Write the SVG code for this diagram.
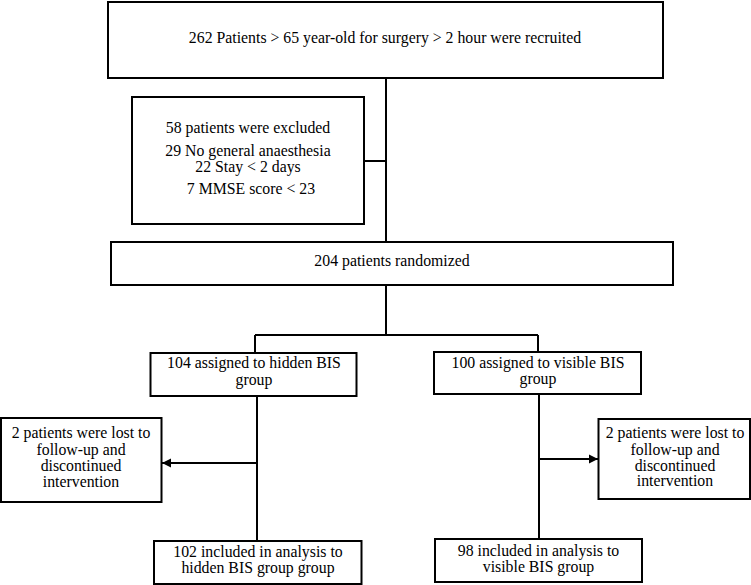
<svg xmlns="http://www.w3.org/2000/svg" width="751" height="585" viewBox="0 0 751 585">
<style>
.box{fill:#fff;stroke:#000;stroke-width:2}
.ln{fill:none;stroke:#000;stroke-width:2}
text{font-family:"Liberation Serif","Times New Roman",serif;font-size:15.8px;fill:#000;text-anchor:middle}
</style>
<defs>
<marker id="ah" markerWidth="10" markerHeight="10" refX="9" refY="5" orient="auto" markerUnits="userSpaceOnUse">
<path d="M0,0.5 L9,5 L0,9.5 Z" fill="#000"/>
</marker>
</defs>
<g id="connectors">
<path class="ln" d="M386,78 V242"/>
<path class="ln" d="M364,161 H386"/>
<path class="ln" d="M386,285 V335"/>
<path class="ln" d="M255,335 H538"/>
<path class="ln" d="M255,335 V353"/>
<path class="ln" d="M538,335 V352"/>
<path class="ln" d="M257,396 V541"/>
<path class="ln" d="M539,394 V539"/>
<path class="ln" d="M257,463 H162" marker-end="url(#ah)"/>
<path class="ln" d="M539,459 H598" marker-end="url(#ah)"/>
</g>
<g id="recruited">
<rect class="box" x="108" y="2" width="555" height="76"/>
<text x="385" y="43">262 Patients &gt; 65 year-old for surgery &gt; 2 hour were recruited</text>
</g>
<g id="excluded">
<rect class="box" x="132" y="97" width="232" height="127"/>
<text x="248" y="133">58 patients were excluded</text>
<text x="248" y="155.5">29 No general anaesthesia</text>
<text x="248" y="171.5">22 Stay &lt; 2 days</text>
<text x="251" y="193.5">7 MMSE score &lt; 23</text>
</g>
<g id="randomized">
<rect class="box" x="111" y="242" width="562" height="43"/>
<text x="392" y="266">204 patients randomized</text>
</g>
<g id="hidden">
<rect class="box" x="150.5" y="353" width="206" height="43"/>
<text x="254" y="368">104 assigned to hidden BIS</text>
<text x="254" y="385">group</text>
</g>
<g id="visible">
<rect class="box" x="434" y="352" width="207" height="42"/>
<text x="538" y="367.5">100 assigned to visible BIS</text>
<text x="538" y="384">group</text>
</g>
<g id="lost-hidden">
<rect class="box" x="1" y="418" width="160.5" height="84"/>
<text x="81" y="438">2 patients were lost to</text>
<text x="81" y="455">follow-up and</text>
<text x="81" y="471">discontinued</text>
<text x="81" y="486.5">intervention</text>
</g>
<g id="lost-visible">
<rect class="box" x="598.5" y="419" width="151.5" height="80"/>
<text x="675" y="438">2 patients were lost to</text>
<text x="675" y="455">follow-up and</text>
<text x="675" y="470.5">discontinued</text>
<text x="675" y="486">intervention</text>
</g>
<g id="analysis-hidden">
<rect class="box" x="154" y="541" width="207.5" height="43"/>
<text x="258" y="557">102 included in analysis to</text>
<text x="258" y="573">hidden BIS group group</text>
</g>
<g id="analysis-visible">
<rect class="box" x="435" y="539" width="207" height="43"/>
<text x="538.5" y="556">98 included in analysis to</text>
<text x="538.5" y="572">visible BIS group</text>
</g>
</svg>
